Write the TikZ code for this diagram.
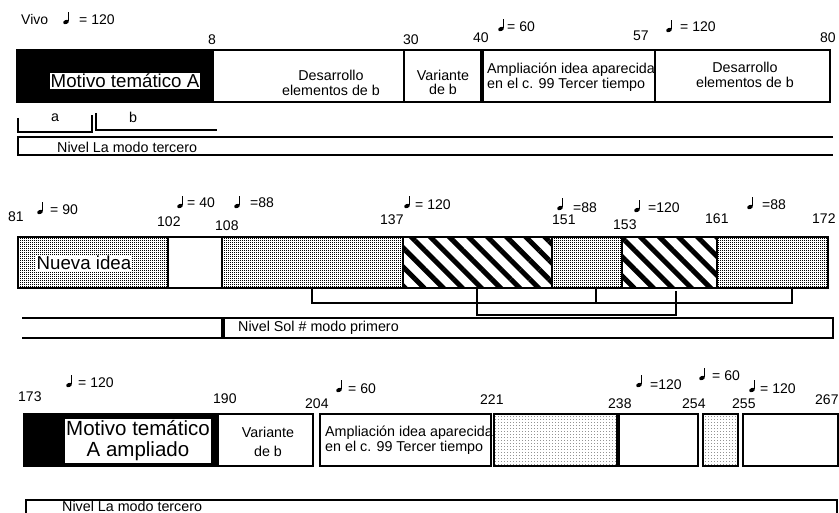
\documentclass[tikz,border=0pt]{standalone}
\usepackage{fontspec}
\setmainfont{Liberation Sans}
\usetikzlibrary{patterns,patterns.meta}

\pgfdeclarepatternformonly{densedots}{\pgfpointorigin}{\pgfqpoint{2pt}{2pt}}{\pgfqpoint{2pt}{2pt}}{%
  \pgfpathrectangle{\pgfpointorigin}{\pgfqpoint{1.35pt}{1.35pt}}\pgfusepath{fill}}
\pgfdeclarepatternformonly{sparsedots}{\pgfpointorigin}{\pgfqpoint{3pt}{3pt}}{\pgfqpoint{3pt}{3pt}}{%
  \pgfpathrectangle{\pgfpointorigin}{\pgfqpoint{0.9pt}{0.9pt}}\pgfusepath{fill}}

\tikzset{
  tnote/.pic={
    \fill[rotate=25] (0,0) ellipse (3 and 2);
    \draw[line width=0.6] (2.6,-0.5) -- (2.6,-10);
  }
}

\begin{document}
\begin{tikzpicture}[x=1pt, y=-1pt,
    num/.style={font=\fontsize{14}{15}\selectfont, anchor=base west, inner sep=0pt},
    txt/.style={font=\fontsize{14.3}{15.5}\selectfont, align=center, inner sep=0pt},
    big/.style={font=\fontsize{18.7}{21}\selectfont, fill=white, inner sep=1pt, align=center},
    box/.style={line width=1.8},
    hatch/.style={pattern={Lines[angle=-45, distance=13.5pt, line width=5pt]}},
    rule/.style={line width=1.5}]
    \useasboundingbox (0,0) rectangle (839,513);

    % first line: bars 1-80
    \node[num] (vivo) at (21,25) {Vivo};
    \pic at (66,22) {tnote};
    \node[num] (tA) at (79,25) {= 120};
    \pic at (501,29) {tnote};
    \node[num] (tB) at (507,32) {= 60};
    \pic at (669,30) {tnote};
    \node[num] (tC) at (680,32) {= 120};

    \node[num] (m8) at (208,45) {8};
    \node[num] (m30) at (403,45) {30};
    \node[num] (m40) at (473,43) {40};
    \node[num] (m57) at (633,41) {57};
    \node[num] (m80) at (820,43) {80};

    \draw[box, fill=black] (17,50) rectangle (213,102);
    \draw[box] (213,50) rectangle (404,102);
    \draw[box] (404,50) rectangle (482,102);
    \draw[box] (482,50) rectangle (655,102);
    \draw[box] (655,50) rectangle (830,102);
    \draw[line width=3.5] (482,50) -- (482,102);

    \node[big] (motA) at (125,81) {Motivo temático A};
    \node[txt] (des1) at (331,83) {Desarrollo\\elementos de b};
    \node[txt] (var1) at (443,82) {Variante\\[-1.5pt]de b};
    \node[txt, align=left, anchor=west] (amp1) at (487,77) {Ampliación idea aparecida\\[-1pt]en el c. 99 Tercer tiempo};
    \node[txt] (des2) at (745,75) {Desarrollo\\elementos de b};

    \draw[rule] (18,118) -- (18,132) -- (92,132) -- (92,115);
    \draw[rule] (96,113) -- (96,130) -- (217,130);
    \node[txt] (la) at (55,118) {a};
    \node[txt] (lb) at (133,117) {b};

    \draw[rule] (833,137) -- (18,137) -- (18,155) -- (833,155);
    \node[txt, anchor=west] (niv1) at (57,147) {Nivel La modo tercero};

    % second line: bars 81-172
    \node[num] (m81) at (8,222) {81};
    \pic at (40,212) {tnote};
    \node[num] (tD) at (50,215) {= 90};
    \node[num] (m102) at (157,227) {102};
    \pic at (180,206) {tnote};
    \node[num] (tE) at (187,208) {= 40};
    \node[num] (m108) at (215,231) {108};
    \pic at (237,206) {tnote};
    \node[num] (tF) at (250,208) {=88};
    \node[num] (m137) at (380,225) {137};
    \pic at (407,206) {tnote};
    \node[num] (tG) at (415,210) {= 120};
    \node[num] (m151) at (552,225) {151};
    \pic at (560,208) {tnote};
    \node[num] (tH) at (573,213) {=88};
    \node[num] (m153) at (613,230) {153};
    \pic at (637,210) {tnote};
    \node[num] (tI) at (648,213) {=120};
    \node[num] (m161) at (705,224) {161};
    \pic at (750,207) {tnote};
    \node[num] (tJ) at (762,210) {=88};
    \node[num] (m172) at (812,224) {172};

    \draw[box, pattern=densedots] (18,237) rectangle (168,288);
    \draw[box] (168,237) rectangle (222,288);
    \draw[box, pattern=densedots] (222,237) rectangle (403,288);
    \draw[box, hatch] (403,237) rectangle (552,288);
    \draw[box, pattern=densedots] (552,237) rectangle (622,288);
    \draw[box, hatch] (622,237) rectangle (717,288);
    \draw[box, pattern=densedots] (717,237) rectangle (828,288);
    \node[big] (nueva) at (84,263) {Nueva idea};

    \draw[rule] (312,288) -- (312,303) -- (792,303) -- (792,288);
    \draw[rule] (596,288) -- (596,303);
    \draw[rule] (477,288) -- (477,315) -- (676,315) -- (676,291);

    \draw[rule] (22,318) -- (833,318) -- (833,338) -- (22,338);
    \draw[line width=3.5] (223,318) -- (223,338);
    \node[txt, anchor=west] (niv2) at (238,328) {Nivel Sol \# modo primero};

    % third line: bars 173-267
    \node[num] (m173) at (18,402) {173};
    \pic at (69,385) {tnote};
    \node[num] (tK) at (78,388) {= 120};
    \node[num] (m190) at (213,403) {190};
    \node[num] (m204) at (305,408) {204};
    \pic at (339,390) {tnote};
    \node[num] (tL) at (348,393) {= 60};
    \node[num] (m221) at (480,405) {221};
    \pic at (639,385) {tnote};
    \node[num] (tM) at (650,390) {=120};
    \pic at (702,378) {tnote};
    \node[num] (tN) at (712,381) {= 60};
    \pic at (752,390) {tnote};
    \node[num] (tO) at (760,393) {= 120};
    \node[num] (m238) at (608,408) {238};
    \node[num] (m254) at (682,408) {254};
    \node[num] (m255) at (732,408) {255};
    \node[num] (m267) at (815,405) {267};

    \draw[box, fill=black] (24,414) rectangle (218,466);
    \draw[box] (218,414) rectangle (313,466);
    \draw[box] (320,414) rectangle (491,466);
    \draw[box, pattern=sparsedots] (494,414) rectangle (618,466);
    \draw[box] (618,414) rectangle (698,466);
    \draw[line width=3.5] (618,414) -- (618,466);
    \draw[box, pattern=sparsedots] (703,414) rectangle (738,466);
    \draw[box] (743,414) rectangle (838,466);

    \node[big, font=\fontsize{20.5}{21}\selectfont, inner sep=1.5pt] (motAA) at (138,441) {Motivo temático\\A ampliado};
    \node[txt] (var2) at (268,442) {Variante\\[3pt]de b};
    \node[txt, align=left, anchor=west] (amp2) at (325,440) {Ampliación idea aparecida\\[-1pt]en el c. 99 Tercer tiempo};

    \draw[rule] (26,514) -- (26,500) -- (837,500) -- (837,514);
    \node[num, font=\fontsize{14.3}{15}\selectfont] (niv3) at (62,511) {Nivel La modo tercero};
\end{tikzpicture}
\end{document}
